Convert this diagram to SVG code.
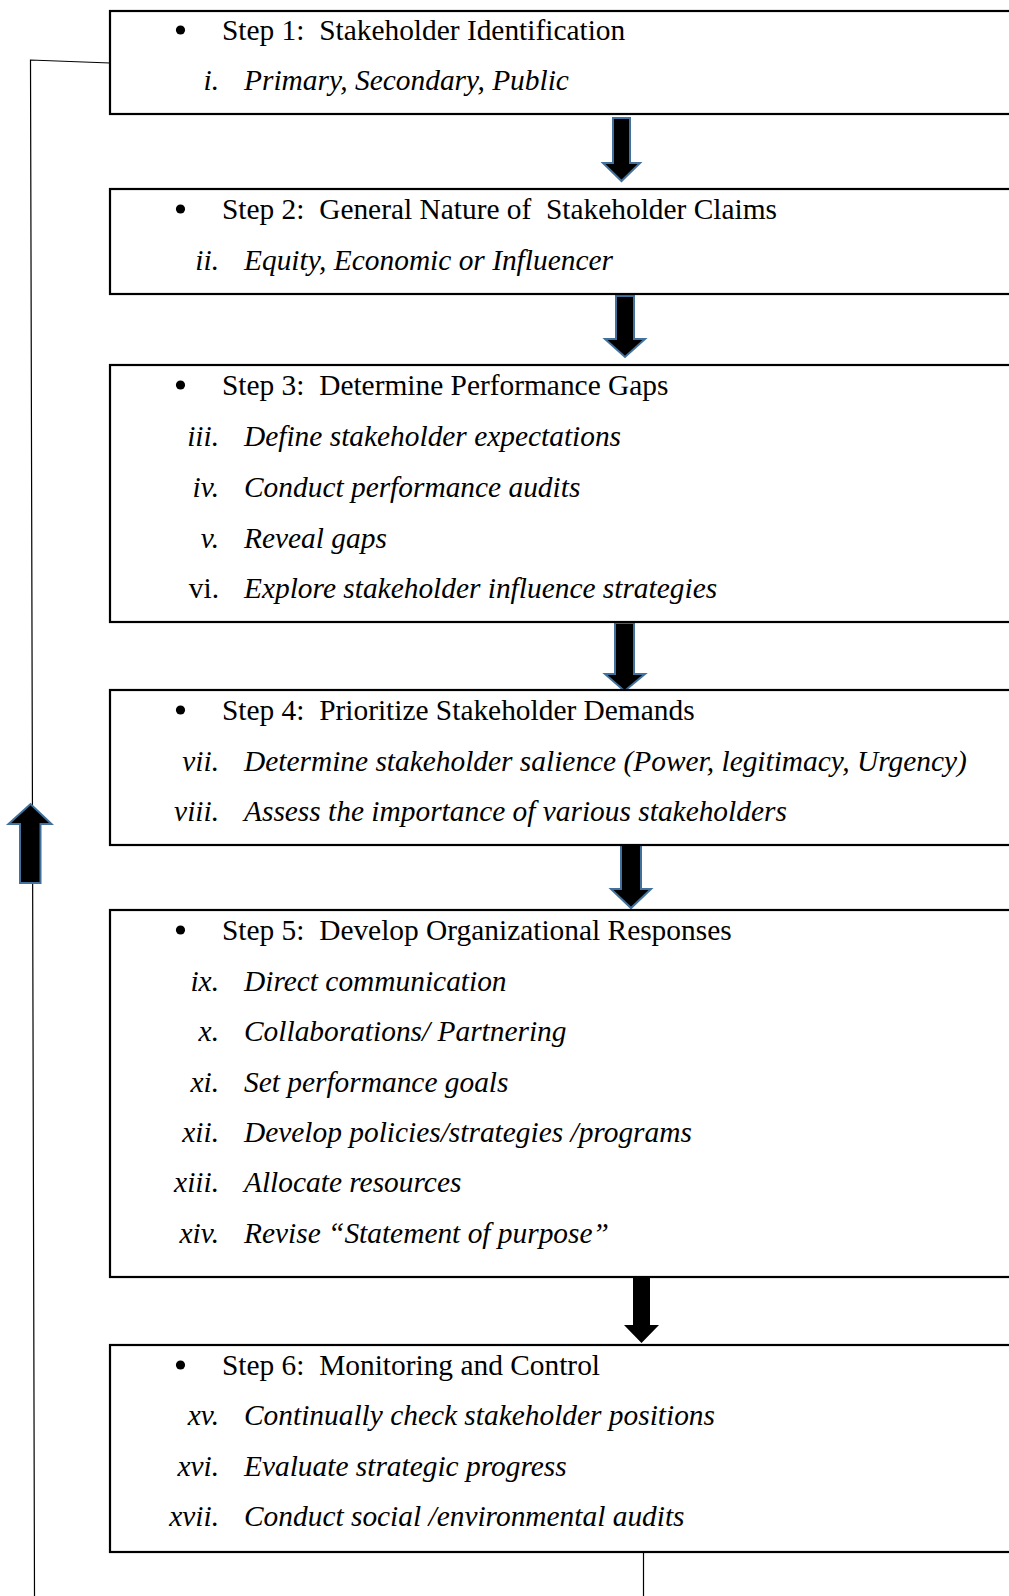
<svg xmlns="http://www.w3.org/2000/svg" width="1009" height="1596" viewBox="0 0 1009 1596">
  <style>
    .box { fill: #ffffff; stroke: #000000; stroke-width: 2.2; }
    .step { font-family: "Liberation Serif", "Times New Roman", serif; font-size: 29.4px; fill: #000000; white-space: pre; }
    .num { font-family: "Liberation Serif", "Times New Roman", serif; font-size: 29.4px; font-style: italic; fill: #000000; text-anchor: end; }
    .num-up { font-family: "Liberation Serif", "Times New Roman", serif; font-size: 29.4px; fill: #000000; text-anchor: end; }
    .item { font-family: "Liberation Serif", "Times New Roman", serif; font-size: 29.4px; font-style: italic; fill: #000000; white-space: pre; }
    .dot { fill: #000000; }
    .blk { fill: #000000; stroke: #41719C; stroke-width: 2; stroke-linejoin: miter; }
    .blk-plain { fill: #000000; }
    .wire { fill: none; stroke: #000000; stroke-width: 1.2; }
  </style>

  <!-- feedback loop and flow arrows -->
  <g id="connectors">
    <polyline class="wire" points="110,63 30.5,60 34.5,1596"/>
    <line class="wire" x1="643.5" y1="1552" x2="643.5" y2="1596"/>
    <path class="blk" d="M613,118 H630 V163 H640 L621.5,181 L603,163 H613 Z"/>
    <path class="blk" d="M616,296 H634 V339 H645 L625,357 L605,339 H616 Z"/>
    <path class="blk" d="M615,623 H634 V674 H645 L624.5,691 L605,674 H615 Z"/>
    <path class="blk" d="M621,845 H641 V889 H651 L631,908 L611,889 H621 Z"/>
    <path class="blk-plain" d="M633,1277 H650 V1325 H659 L641.5,1343 L624,1325 H633 Z"/>
    <path class="blk" d="M20,883 V824 H8.5 L30.5,804 L51.5,824 H40.5 V883 Z"/>
  </g>

  <g id="step1">
    <rect class="box" x="110" y="11" width="910" height="103"/>
    <circle class="dot" cx="180.5" cy="30" r="4.6"/>
    <text class="step" x="222" y="39.5">Step 1:  Stakeholder Identification</text>
    <text class="num" x="219" y="90">i.</text>
    <text class="item" x="244" y="90">Primary, Secondary, Public</text>
  </g>

  <g id="step2">
    <rect class="box" x="110" y="189" width="910" height="105"/>
    <circle class="dot" cx="180.5" cy="209" r="4.6"/>
    <text class="step" x="222" y="218.5">Step 2:  General Nature of  Stakeholder Claims</text>
    <text class="num" x="219" y="269.5">ii.</text>
    <text class="item" x="244" y="269.5">Equity, Economic or Influencer</text>
  </g>

  <g id="step3">
    <rect class="box" x="110" y="365" width="910" height="257"/>
    <circle class="dot" cx="180.5" cy="385" r="4.6"/>
    <text class="step" x="222" y="394.5">Step 3:  Determine Performance Gaps</text>
    <text class="num" x="219" y="445.5">iii.</text>
    <text class="item" x="244" y="445.5">Define stakeholder expectations</text>
    <text class="num" x="219" y="496.5">iv.</text>
    <text class="item" x="244" y="496.5">Conduct performance audits</text>
    <text class="num" x="219" y="547.5">v.</text>
    <text class="item" x="244" y="547.5">Reveal gaps</text>
    <text class="num-up" x="219" y="597.5">vi.</text>
    <text class="item" x="244" y="597.5">Explore stakeholder influence strategies</text>
  </g>

  <g id="step4">
    <rect class="box" x="110" y="690" width="910" height="155"/>
    <circle class="dot" cx="180.5" cy="710" r="4.6"/>
    <text class="step" x="222" y="719.5">Step 4:  Prioritize Stakeholder Demands</text>
    <text class="num" x="219" y="770.5">vii.</text>
    <text class="item" x="244" y="770.5">Determine stakeholder salience (Power, legitimacy, Urgency)</text>
    <text class="num" x="219" y="820.5">viii.</text>
    <text class="item" x="244" y="820.5">Assess the importance of various stakeholders</text>
  </g>

  <g id="step5">
    <rect class="box" x="110" y="910" width="910" height="367"/>
    <circle class="dot" cx="180.5" cy="930" r="4.6"/>
    <text class="step" x="222" y="939.5">Step 5:  Develop Organizational Responses</text>
    <text class="num" x="219" y="990.5">ix.</text>
    <text class="item" x="244" y="990.5">Direct communication</text>
    <text class="num" x="219" y="1040.5">x.</text>
    <text class="item" x="244" y="1040.5">Collaborations/ Partnering</text>
    <text class="num" x="219" y="1091.5">xi.</text>
    <text class="item" x="244" y="1091.5">Set performance goals</text>
    <text class="num" x="219" y="1141.5">xii.</text>
    <text class="item" x="244" y="1141.5">Develop policies/strategies /programs</text>
    <text class="num" x="219" y="1191.5">xiii.</text>
    <text class="item" x="244" y="1191.5">Allocate resources</text>
    <text class="num" x="219" y="1242.5">xiv.</text>
    <text class="item" x="244" y="1242.5">Revise “Statement of purpose”</text>
  </g>

  <g id="step6">
    <rect class="box" x="110" y="1345" width="910" height="207"/>
    <circle class="dot" cx="180.5" cy="1365" r="4.6"/>
    <text class="step" x="222" y="1374.5">Step 6:  Monitoring and Control</text>
    <text class="num" x="219" y="1424.5">xv.</text>
    <text class="item" x="244" y="1424.5">Continually check stakeholder positions</text>
    <text class="num" x="219" y="1475.5">xvi.</text>
    <text class="item" x="244" y="1475.5">Evaluate strategic progress</text>
    <text class="num" x="219" y="1525.5">xvii.</text>
    <text class="item" x="244" y="1525.5">Conduct social /environmental audits</text>
  </g>
</svg>
